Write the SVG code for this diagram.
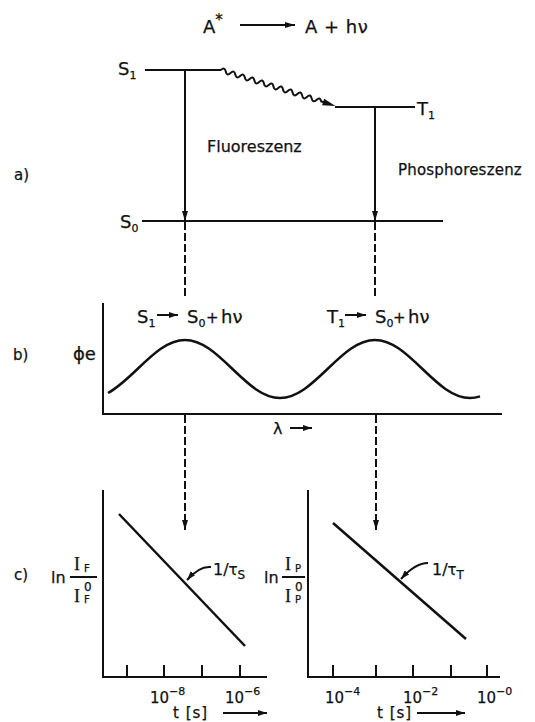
<svg xmlns="http://www.w3.org/2000/svg" width="535" height="722" viewBox="0 0 535 722">
<style>
text{font-family:"DejaVu Sans","Liberation Sans",Arial,sans-serif;fill:#111;stroke:#111;stroke-width:0.25}
.f18{font-size:18px}
.f16{font-size:16px}
.f15{font-size:15px}
.f12{font-size:12px}
.f11{font-size:11px}
.f10{font-size:10px}
.serif{font-family:"Liberation Serif","Times New Roman",serif}
.ln{stroke:#111;stroke-width:2;fill:none}
.th{stroke-width:2.5}
.d{stroke-dasharray:8 3}
</style>
<defs>
<marker id="ah" viewBox="0 0 10 6" refX="10" refY="3" markerWidth="10" markerHeight="6" markerUnits="userSpaceOnUse" orient="auto"><path d="M0,0 L10,3 L0,6 z" fill="#111"/></marker>
<marker id="ahs" viewBox="0 0 9 6" refX="9" refY="3" markerWidth="9" markerHeight="6" markerUnits="userSpaceOnUse" orient="auto"><path d="M0,0 L9,3 L0,6 z" fill="#111"/></marker>
</defs>

<g id="reaction">
<text class="f18" x="203" y="33">A<tspan class="f15" dy="-8">*</tspan></text>
<text class="f18" x="305" y="33" letter-spacing="0.5">A + hν</text>
</g>

<g id="panel-labels">
<text class="f15" x="14" y="180">a)</text>
<text class="f15" x="13" y="360">b)</text>
<text class="f15" x="14" y="580">c)</text>
</g>

<g id="S1">
<path class="ln" d="M145,70 H221"/>
<text class="f18" x="118" y="75">S<tspan class="f11" dy="4">1</tspan></text>
</g>
<g id="T1">
<path class="ln" d="M335,107 H415"/>
<text class="f18" x="417" y="115">T<tspan class="f11" dy="4">1</tspan></text>
</g>
<g id="S0">
<path class="ln" d="M142,221 H443"/>
<text class="f18" x="120" y="228">S<tspan class="f11" dy="4">0</tspan></text>
</g>
<g id="fluor-label"><text class="f16" x="207" y="152">Fluoreszenz</text></g>
<g id="phos-label"><text class="f15" x="398" y="175" letter-spacing="0.2">Phosphoreszenz</text></g>

<g id="spectrum">
<path class="ln" d="M103,303 V414 H502"/>
<text class="f18" x="73" y="360">ϕe</text>
<text class="f16" x="273" y="434">λ</text>
<path class="ln" d="M290,428 H312" marker-end="url(#ahs)"/>
<path class="ln th" d="M108,393 C117.8,387.7 127.7,378.4 137.5,369 C153.4,353.8 167.9,340 185,340 C202.1,340 216.6,353.8 232.5,369 C248.4,384.2 262.9,398 280,398 C297.1,398 311.6,384.2 327.5,369 C343.4,353.8 357.9,340 375,340 C392.1,340 406.6,353.8 422.5,369 C438.4,384.2 452.9,398 470,398 Q475,398 480,396.4"/>
<text class="f18" x="137" y="323">S<tspan class="f11" dy="4">1</tspan></text>
<path class="ln" d="M157,315 H178" marker-end="url(#ahs)"/>
<text class="f18" x="187" y="323">S<tspan class="f11" dy="4">0</tspan></text>
<text class="f15" x="206" y="323">+</text>
<text class="f18" x="221" y="323">hν</text>
<text class="f18" x="327" y="323">T<tspan class="f11" dy="4">1</tspan></text>
<path class="ln" d="M345,315 H366" marker-end="url(#ahs)"/>
<text class="f18" x="375" y="323">S<tspan class="f11" dy="4">0</tspan></text>
<text class="f15" x="393" y="323">+</text>
<text class="f18" x="408" y="323">hν</text>
</g>

<g id="plotF">
<path class="ln" d="M103,490 V677 H267"/>
<path class="ln" d="M127,677 V665 M164,677 V665 M202,677 V665 M240,677 V665"/>
<path class="ln th" d="M119,514 L245,646"/>
<text class="f16" x="51" y="583">ln</text>
<text class="f18 serif" x="74" y="570">I</text>
<text class="f10" x="84" y="572">F</text>
<path class="ln" stroke-width="1.5" d="M70,577 H97"/>
<text class="f18 serif" x="74" y="602">I</text>
<text class="f12" x="84" y="591">0</text>
<text class="f10" x="84" y="603">F</text>
<text class="f16" x="213" y="575">1/<tspan class="f15">τ</tspan><tspan class="f12" dy="4">S</tspan></text>
<text class="f15" x="150" y="703">10<tspan class="f11" dy="-8">−8</tspan></text>
<text class="f15" x="225" y="703">10<tspan class="f11" dy="-8">−6</tspan></text>
<text class="f15" x="173" y="718" letter-spacing="1">t [s]</text>
<path class="ln" stroke-width="1.5" d="M223,713 H267" marker-end="url(#ahs)"/>
</g>

<g id="plotP">
<path class="ln" d="M308,490 V677 H500"/>
<path class="ln" d="M333,677 V665 M376,677 V665 M413,677 V665 M451,677 V665 M487,677 V665"/>
<path class="ln th" d="M333,523 L466,639"/>
<text class="f16" x="264" y="583">ln</text>
<text class="f18 serif" x="285" y="570">I</text>
<text class="f10" x="295" y="572">P</text>
<path class="ln" stroke-width="1.5" d="M282,577 H305"/>
<text class="f18 serif" x="285" y="602">I</text>
<text class="f12" x="295" y="591">0</text>
<text class="f10" x="295" y="603">P</text>
<text class="f16" x="432" y="575">1/<tspan class="f15">τ</tspan><tspan class="f12" dy="4">T</tspan></text>
<text class="f15" x="325" y="703">10<tspan class="f11" dy="-8">−4</tspan></text>
<text class="f15" x="403" y="703">10<tspan class="f11" dy="-8">−2</tspan></text>
<text class="f15" x="477" y="703">10<tspan class="f11" dy="-8">−0</tspan></text>
<text class="f15" x="377" y="718" letter-spacing="1">t [s]</text>
<path class="ln" stroke-width="1.5" d="M417,713 H465" marker-end="url(#ahs)"/>
</g>

<g id="connectors">
<path class="ln" stroke-width="1.5" d="M240,25 H295" marker-end="url(#ah)"/>
<g transform="translate(221,70) rotate(17.4)">
<path class="ln" stroke-width="2.2" d="M0,0 q2.5,-4.5 5,0 t5,0 t5,0 t5,0 t5,0 t5,0 t5,0 t5,0 t5,0 t5,0 t5,0 t5,0 t5,0 t5,0 t5,0 t5,0 t5,0 t5,0 t5,0 t5,0 t5,0 L108,0"/>
<path d="M107,-3.5 L120,0 L107,3.5 z" fill="#111"/>
</g>
<path class="ln" d="M185,70 V221" marker-end="url(#ah)"/>
<path class="ln" d="M375,108 V221" marker-end="url(#ah)"/>
<path class="ln d" d="M185,222 V296"/>
<path class="ln d" d="M375,222 V296"/>
<path class="ln d" d="M185,415 V530" marker-end="url(#ah)"/>
<path class="ln d" d="M376,415 V530" marker-end="url(#ah)"/>
<path class="ln" stroke-width="1.5" d="M211,567 C202,566 194,572 187,580" marker-end="url(#ahs)"/>
<path class="ln" stroke-width="1.5" d="M428,563 C418,563 409,570 401,579" marker-end="url(#ahs)"/>
</g>
</svg>
